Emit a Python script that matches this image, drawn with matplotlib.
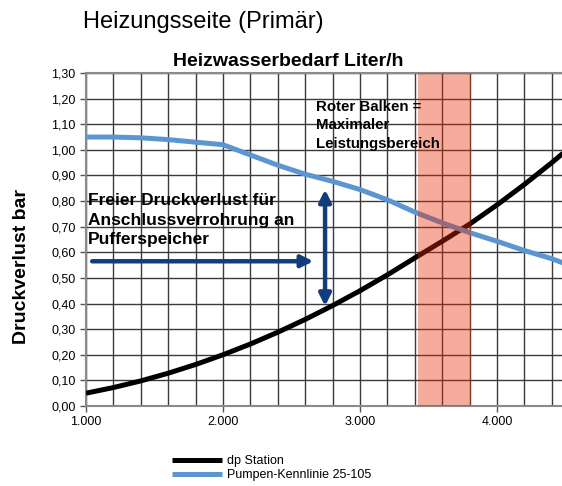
import matplotlib
matplotlib.use("Agg")
import matplotlib.pyplot as plt
from matplotlib.ticker import MultipleLocator, FuncFormatter

plt.rcParams['font.family'] = ['Liberation Sans', 'DejaVu Sans']

# ---- data ----
flow = [1000, 1200, 1400, 1600, 1800, 2000, 2200, 2400, 2600, 2800,
        3000, 3200, 3400, 3600, 3800, 4000, 4200, 4400, 4500]
dp_station = [0.05, 0.072, 0.098, 0.128, 0.162, 0.20, 0.242, 0.288, 0.338, 0.392,
              0.45, 0.512, 0.578, 0.643, 0.71, 0.785, 0.865, 0.95, 0.995]
pump_curve = [1.05, 1.05, 1.047, 1.04, 1.03, 1.02, 0.98, 0.94, 0.905, 0.877,
              0.845, 0.805, 0.757, 0.715, 0.677, 0.643, 0.607, 0.575, 0.555]
band_range = (3425, 3810)
series_names = ["dp Station", "Pumpen-Kennlinie 25-105"]
title_main = "Heizungsseite (Primär)"
title_axes = "Heizwasserbedarf Liter/h"
y_label = "Druckverlust bar"
note_left = "Freier Druckverlust für\nAnschlussverrohrung an\nPufferspeicher"
note_right = "Roter Balken =\nMaximaler\nLeistungsbereich"
h_arrow = ((1045, 0.565), (2660, 0.565))
v_arrow = ((2745, 0.39), (2745, 0.845))

W, H = 562, 486
fig = plt.figure(figsize=(W / 100, H / 100), dpi=100)
ax = fig.add_axes([86 / W, (H - 406) / H, (565.5 - 86) / W, (406 - 73) / H])

ax.set_xlim(1000, 4500)
ax.set_ylim(0, 1.3)
ax.xaxis.set_major_locator(MultipleLocator(1000))
ax.xaxis.set_minor_locator(MultipleLocator(200))
ax.yaxis.set_major_locator(MultipleLocator(0.1))
ax.xaxis.set_major_formatter(FuncFormatter(lambda v, p: f"{int(round(v)):,}".replace(",", ".")))
ax.yaxis.set_major_formatter(FuncFormatter(lambda v, p: f"{v:.2f}".replace(".", ",")))
ax.grid(True, which='both', axis='x', color='#3a3a3a', linewidth=1.0, zorder=0)
ax.grid(True, which='major', axis='y', color='#3a3a3a', linewidth=1.0, zorder=0)
ax.set_axisbelow(True)
ax.tick_params(axis='both', which='major', labelsize=9, length=4, width=1, color='#555555', direction='out')
ax.tick_params(axis='x', which='minor', length=0)
for s in ['left', 'bottom', 'top']:
    ax.spines[s].set_color('#8a8a8a')
    ax.spines[s].set_linewidth(1.5)
ax.spines['right'].set_visible(False)

l1, = ax.plot(flow, dp_station, color='black', linewidth=3.6, solid_capstyle='butt', zorder=3)
l2, = ax.plot(flow, pump_curve, color='#5b96d2', linewidth=3.6, solid_capstyle='butt', zorder=3)

ax.axvspan(band_range[0], band_range[1], color=(231 / 255, 41 / 255, 0), alpha=0.39, linewidth=0, zorder=4)

navy = '#123d7c'
ax.annotate('', xy=h_arrow[1], xytext=h_arrow[0],
            arrowprops=dict(arrowstyle='-|>,head_length=0.7,head_width=0.35', color=navy, lw=3.2,
                            shrinkA=0, shrinkB=0), zorder=5)
ax.annotate('', xy=v_arrow[1], xytext=v_arrow[0],
            arrowprops=dict(arrowstyle='<|-|>,head_length=0.7,head_width=0.35', color=navy, lw=3.2,
                            shrinkA=0, shrinkB=0), zorder=5)

fig.text(88 / W, 1 - 193 / H, note_left, fontsize=12.5, fontweight='bold', ha='left', va='top',
         linespacing=1.38, zorder=6)
fig.text(316 / W, 1 - 100 / H, note_right, fontsize=10.8, fontweight='bold', ha='left', va='top',
         linespacing=1.4, zorder=6)

fig.text(83 / W, 1 - 22 / H, title_main, fontsize=17, ha='left', va='center')
fig.text(288 / W, 1 - 62 / H, title_axes, fontsize=14, fontweight='bold', ha='center', va='center')
fig.text(22 / W, 1 - 266 / H, y_label, fontsize=14, fontweight='bold', rotation=90, ha='center', va='center')

fig.legend([l1, l2], series_names, loc='upper left', bbox_to_anchor=(172 / W, 1 - 455 / H),
           frameon=False, fontsize=9, handlelength=4.0, handletextpad=0.4, labelspacing=0.15,
           borderpad=0, borderaxespad=0)

fig.savefig('out.png', dpi=100)
